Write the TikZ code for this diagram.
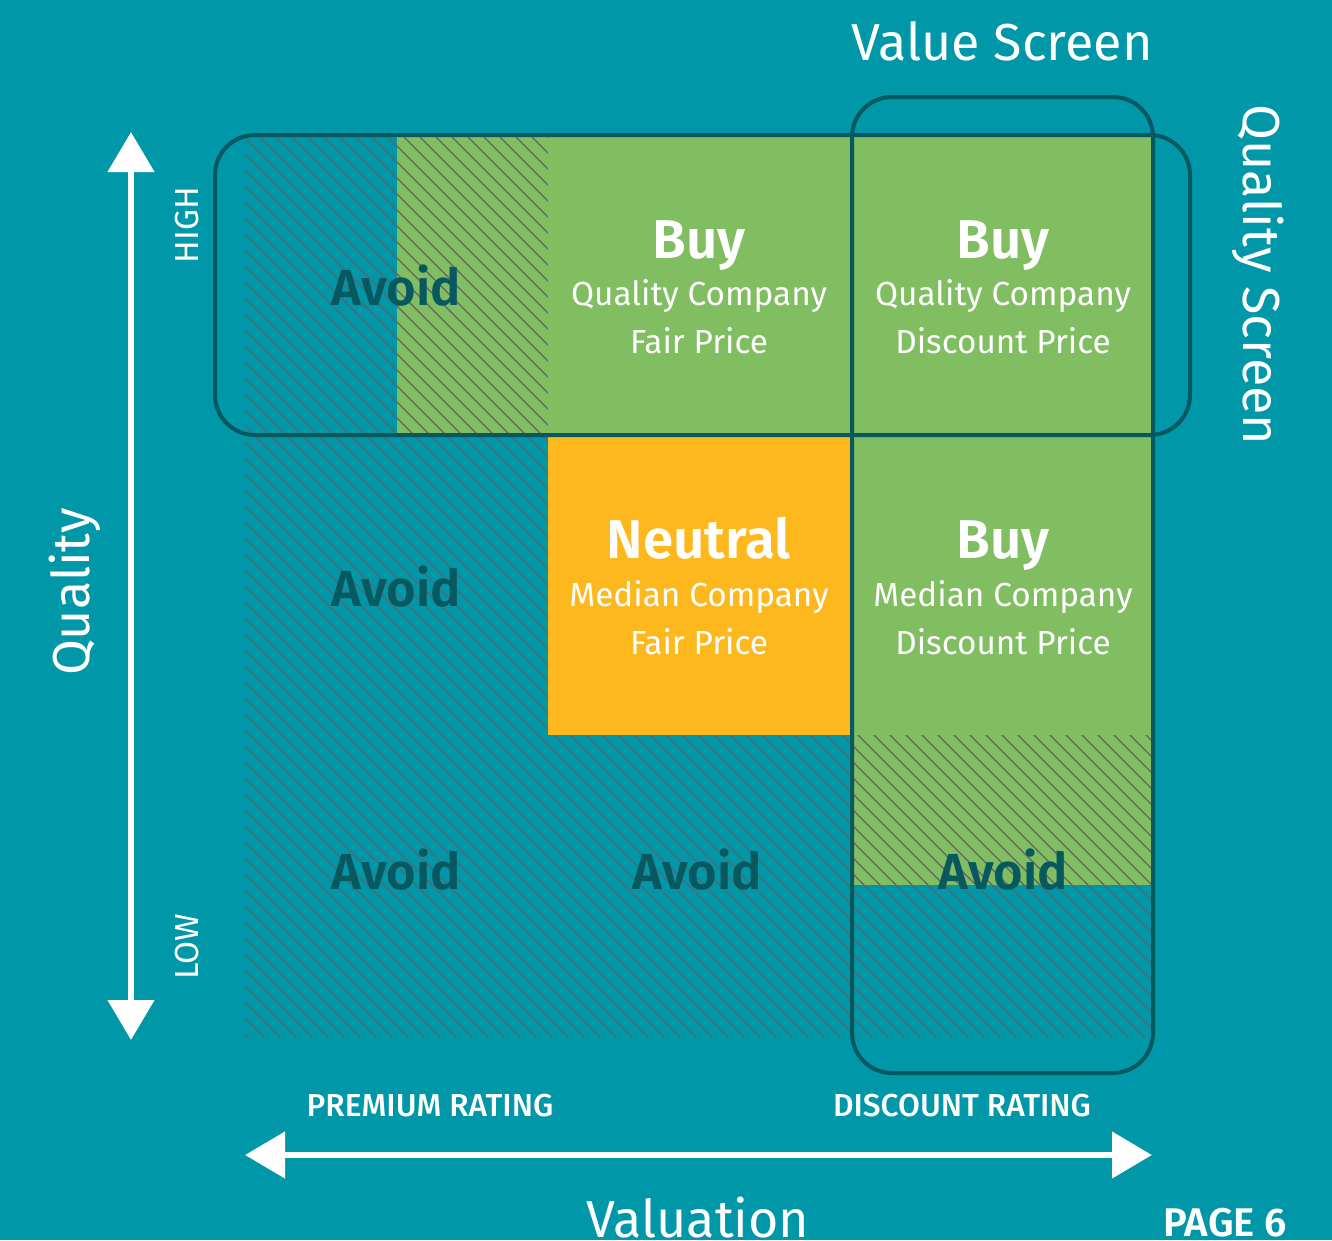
\documentclass[tikz,border=0pt]{standalone}
\usepackage{fontspec}
\setmainfont{Fira Sans}
\newfontfamily\semibold{Fira Sans SemiBold}
\newfontfamily\medium{Fira Sans Medium}
\usetikzlibrary{arrows.meta}

\definecolor{bgteal}{RGB}{0,151,168}
\definecolor{buygreen}{RGB}{128,190,97}
\definecolor{neutralorange}{RGB}{253,184,30}
\definecolor{screenteal}{RGB}{8,88,96}
\definecolor{hatchgray}{RGB}{98,98,104}

\tikzset{
  screen/.style={draw=screenteal, line width=3pt, rounded corners=30pt},
  axis/.style={draw=white, line width=5pt, {Triangle[length=30pt,width=34pt]}-{Triangle[length=30pt,width=34pt]}},
  head/.style={text=white, font=\fontsize{41}{48}\semibold, anchor=base},
  sub/.style={text=white, font=\fontsize{25}{30}\selectfont, anchor=base},
  avoid/.style={text=screenteal, font=\fontsize{38}{45}\semibold, anchor=base},
  tick/.style={text=white, font=\fontsize{23.8}{28}\medium},
  title/.style={text=white, font=\fontsize{39}{46}\selectfont},
}

\begin{document}
\begin{tikzpicture}[x=0.75pt, y=-0.75pt]
  % Background
  \fill[bgteal] (0,0) rectangle (1332,1240);
  \useasboundingbox (0,0) rectangle (1332,1240);

  % Draw cells
  \fill[buygreen] (397,135) rectangle (1152,435);
  \fill[buygreen] (850,435) rectangle (1152,885);
  \fill[neutralorange] (548,435) rectangle (850,735);

  % Hatched "avoid" area
  \begin{scope}
    \clip (245,135) rectangle (548,1038) (548,735) rectangle (1152,1038);
    \foreach \c in {-670,-654,...,1160}
      \draw[hatchgray, line width=1pt] (\c,135) -- ++(910,910);
  \end{scope}

  % Cell labels
  \node[head] (buyqf) at (699,258) {Buy};
  \node[sub] (buyqf1) at (699,305) {Quality Company};
  \node[sub] (buyqf2) at (699,353) {Fair Price};

  \node[head] (buyqd) at (1003,258) {Buy};
  \node[sub] (buyqd1) at (1003,305) {Quality Company};
  \node[sub] (buyqd2) at (1003,353) {Discount Price};

  \node[head] (neutral) at (699,558) {Neutral};
  \node[sub] (neutral1) at (699,606) {Median Company};
  \node[sub] (neutral2) at (699,654) {Fair Price};

  \node[head] (buymd) at (1003,558) {Buy};
  \node[sub] (buymd1) at (1003,606) {Median Company};
  \node[sub] (buymd2) at (1003,654) {Discount Price};

  \node[avoid] (avoida) at (396,305) {Avoid};
  \node[avoid] (avoidb) at (396,606) {Avoid};
  \node[avoid] (avoidc) at (396,889) {Avoid};
  \node[avoid] (avoidd) at (697,889) {Avoid};
  \node[avoid] (avoide) at (1003,889) {Avoid};

  % Screens
  \draw[screen] (215,135) rectangle (1190,435);
  \draw[screen] (852,97) rectangle (1153,1073);
  \node[title, anchor=base] (valscreen) at (1002,60) {Value Screen};
  \node[title, rotate=-90] (qualscreen) at (1258,275) {Quality Screen};

  % Axes
  \coordinate (qtop) at (131,132);
  \coordinate (qbot) at (131,1040);
  \coordinate (vleft) at (245,1155);
  \coordinate (vright) at (1152,1155);
  \draw[axis] (qtop) -- (qbot);
  \draw[axis] (vleft) -- (vright);

  \node[title, rotate=90] (quality) at (75,592) {Quality};
  \node[tick, rotate=90, font=\fontsize{25}{30}\selectfont] (high) at (187,225) {HIGH};
  \node[tick, rotate=90, font=\fontsize{25}{30}\selectfont] (low) at (187,947) {LOW};
  \node[tick, anchor=base] (premium) at (430,1116) {PREMIUM RATING};
  \node[tick, anchor=base] (discount) at (962,1116) {DISCOUNT RATING};
  \node[title, anchor=base, inner sep=0pt] (valuation) at (698,1237) {Valuation};
  \node[tick, anchor=base east, inner sep=0pt, font=\fontsize{30}{35}\semibold] (page) at (1287,1236) {PAGE 6};
\end{tikzpicture}
\end{document}
